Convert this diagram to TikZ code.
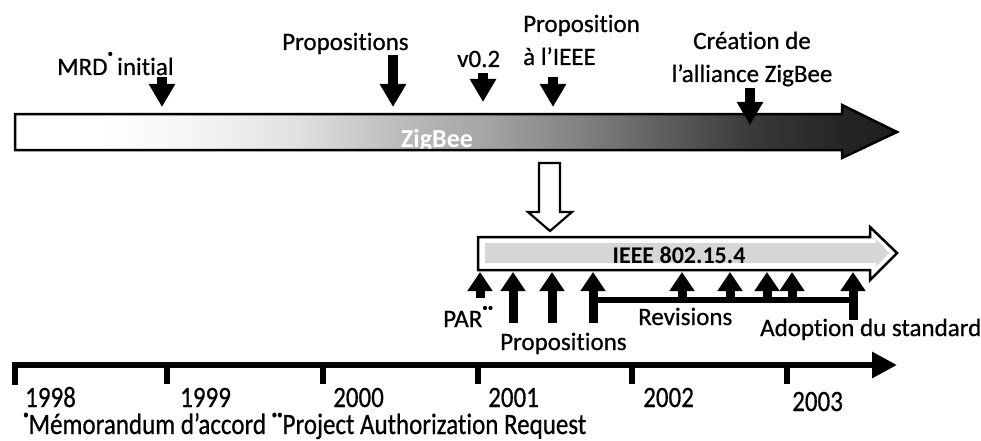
\documentclass[tikz,border=0pt]{standalone}
\usepackage{fontspec}
\setmainfont{Carlito}[Ligatures=NoCommon]
\newfontfamily\heavy{Carlito}[FakeBold=0.7,Ligatures=NoCommon]
\usetikzlibrary{arrows.meta}
\pgfdeclarehorizontalshading{zigshade}{100bp}{color(0bp)=(white); color(25bp)=(white); color(30bp)=(white); color(35bp)=(black!4); color(41bp)=(black!12); color(47bp)=(black!27); color(51.5bp)=(black!35); color(58bp)=(black!52); color(66.5bp)=(black!77); color(72bp)=(black!86); color(75bp)=(black!88); color(100bp)=(black!88)}
\newcommand{\fdot}[1]{\smash{\raisebox{#1}{\fontsize{11}{11}\selectfont •}}}
\newcommand{\tall}[1]{\scalebox{1}[1.18]{#1}}
\begin{document}
\begin{tikzpicture}[x=1pt,y=-1pt,
  lbl/.style={inner sep=0pt, font=\fontsize{25}{33}\selectfont\heavy},
  downarr/.style={line width=9.5pt, -{Triangle[width=25pt,length=23pt]}},
  uparr/.style={line width=9pt, -{Triangle[width=24pt,length=19pt]}},
  outline/.style={line width=2.5pt, line join=miter},
  tickmark/.style={line width=6pt},
  yearlbl/.style={lbl, anchor=base west}]
\useasboundingbox (0,0) rectangle (981,441);

% ---------------- ZigBee arrow ----------------
\shade[shading=zigshade] (15,114) -- (842,114) -- (842,105) -- (897,132) -- (842,158) -- (842,150) -- (15,150) -- cycle;
\begin{scope}
  \clip (15,114) rectangle (842,150);
  \node[inner sep=0pt, anchor=base, text=white, font=\fontsize{26}{30}\selectfont\bfseries] (zig) at (437,147) {ZigBee};
\end{scope}
\draw[outline] (15,114) -- (842,114) -- (842,105) -- (897,132) -- (842,158) -- (842,150) -- (15,150) -- cycle;

% ---------------- top labels ----------------
\node[lbl, anchor=base west] (mrd) at (57,75) {MRD\fdot{18pt}\,initial};
\node[lbl, anchor=base west] (propA) at (282,50) {Propositions};
\node[lbl, anchor=base west] (v02) at (457,67) {v0.2};
\node[lbl, anchor=base west, align=left] (pieee) at (523,65) {Proposition\\à l’IEEE};
\node[lbl, anchor=base, align=center] (crea) at (752,82) {Création de\\l’alliance ZigBee};

\coordinate (mrdA) at (162,77);  \coordinate (mrdB) at (162,107);
\coordinate (propAa) at (393,55); \coordinate (propAb) at (393,107);
\coordinate (v02a) at (483,73);  \coordinate (v02b) at (483,102);
\coordinate (pieeea) at (553,77); \coordinate (pieeeb) at (553,107);
\coordinate (creaa) at (750,88); \coordinate (creab) at (750,125);
\draw[downarr] (mrdA) -- (mrdB);
\draw[downarr] (propAa) -- (propAb);
\draw[downarr] (v02a) -- (v02b);
\draw[downarr] (pieeea) -- (pieeeb);
\draw[downarr] (creaa) -- (creab);

% ---------------- hollow arrow ----------------
\draw[line width=2.2pt, fill=white, line join=miter] (539,163) -- (560,163) -- (560,212) -- (572,212) -- (550,231) -- (528,212) -- (539,212) -- cycle;

% ---------------- IEEE arrow ----------------
\draw[outline, fill=white] (478,237) -- (870,237) -- (870,227) -- (897,253) -- (870,280) -- (870,270) -- (478,270) -- cycle;
\fill[black!16] (485,243) -- (876,243) -- (876,239) -- (889,253) -- (876,267) -- (876,263) -- (485,263) -- cycle;
\node[inner sep=0pt, anchor=base, font=\fontsize{24}{28}\selectfont\bfseries] (ieee) at (679,263) {IEEE 802.15.4};

% ---------------- up arrows ----------------
\coordinate (par1) at (480,298); \coordinate (par2) at (480,272);
\coordinate (p1a) at (513,323); \coordinate (p1b) at (513,272);
\coordinate (p2a) at (552,323); \coordinate (p2b) at (552,272);
\coordinate (p3a) at (593,323); \coordinate (p3b) at (593,272);
\coordinate (bar1) at (590,300); \coordinate (bar2) at (856,300);
\coordinate (r1a) at (682,300); \coordinate (r1b) at (682,272);
\coordinate (r2a) at (730,300); \coordinate (r2b) at (730,272);
\coordinate (r3a) at (767,300); \coordinate (r3b) at (767,272);
\coordinate (r4a) at (792,300); \coordinate (r4b) at (792,272);
\coordinate (ada) at (853,320); \coordinate (adb) at (853,272);
\draw[line width=6pt] (bar1) -- (bar2);
\foreach \a/\b in {par1/par2,p1a/p1b,p2a/p2b,p3a/p3b,r1a/r1b,r2a/r2b,r3a/r3b,r4a/r4b,ada/adb}
  \draw[uparr] (\a) -- (\b);

% ---------------- lower labels ----------------
\node[lbl, anchor=base west] (par) at (443,327) {PAR\fdot{16pt}\fdot{16pt}};
\node[lbl, anchor=base west] (propB) at (500,350) {Propositions};
\node[lbl, anchor=base west] (rev) at (638,325) {Revisions};
\node[lbl, anchor=base west] (adopt) at (760,336) {Adoption du standard};

% ---------------- time axis ----------------
\coordinate (ax0) at (12,365);
\coordinate (ax1) at (897,365);
\draw[line width=6pt, -{Triangle[width=25pt,length=25pt]}] (ax0) -- (ax1);
\draw[tickmark] (15,362) -- (15,385);
\foreach \x in {167,323,478,632,787}
  \draw[tickmark] (\x,365) -- (\x,384);

\node[yearlbl] (y98) at (25,407) {\tall{1998}};
\node[yearlbl] (y99) at (180,407) {\tall{1999}};
\node[yearlbl] (y00) at (333,407) {\tall{2000}};
\node[yearlbl] (y01) at (488,407) {\tall{2001}};
\node[yearlbl] (y02) at (643,407) {\tall{2002}};
\node[yearlbl] (y03) at (792,411) {\tall{2003}};

\node[lbl, anchor=base west] (foot) at (23,434) {\tall{\fdot{13pt}Mémorandum d’accord \fdot{13pt}\fdot{13pt}Project Authorization Request}};
\end{tikzpicture}
\end{document}
